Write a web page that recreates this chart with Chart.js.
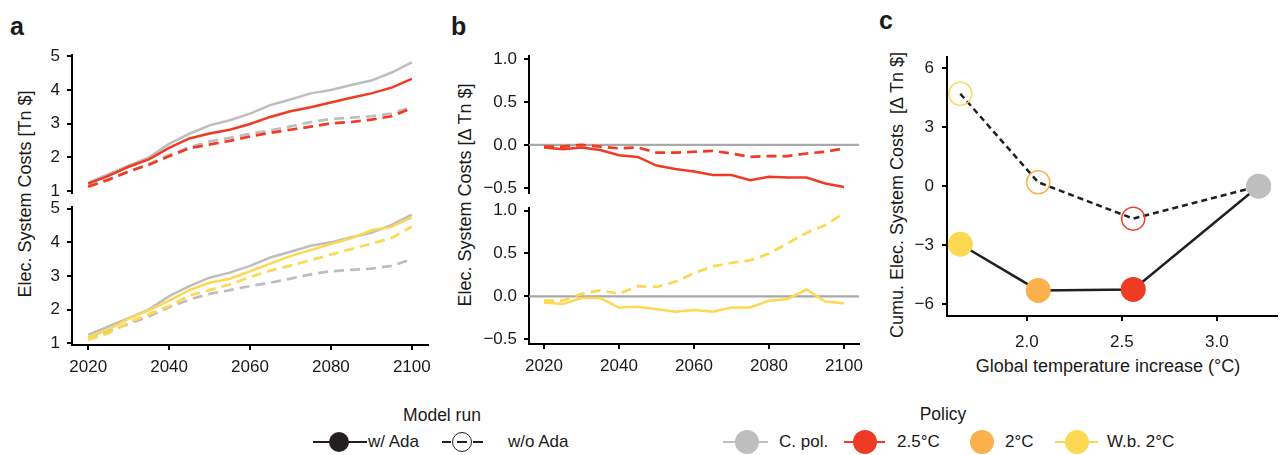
<!DOCTYPE html>
<html lang="en">
<head>
<meta charset="UTF-8" />
<title>Elec. System Costs</title>
<script src="https://cdn.jsdelivr.net/npm/chart.js"></script>
<style>
body {
  margin: 0;
  width: 1282px;
  height: 455px;
  overflow: hidden;
  position: relative;
  background: #ffffff;
  font-family: 'Liberation Sans', Arial, sans-serif;
  color: #1a1a1a;
}
canvas { position: absolute; }
.panel-letter {
  position: absolute;
  font-weight: bold;
  font-size: 25px;
  line-height: 1;
}
.ytitle {
  position: absolute;
  font-size: 18px;
  white-space: nowrap;
  transform: translate(-50%, -50%) rotate(-90deg);
}
.txt {
  position: absolute;
  font-size: 17px;
  white-space: nowrap;
  transform: translateY(-50%);
}
.centre { transform: translate(-50%, -50%); }
.seg { position: absolute; height: 0; border-top: 2px solid; }
.dot { position: absolute; border-radius: 50%; }
</style>
</head>
<body>

<div class="panel-letter" style="left:10px; top:14px;">a</div>
<div class="panel-letter" style="left:451px; top:14px;">b</div>
<div class="panel-letter" style="left:879px; top:8px;">c</div>

<div class="ytitle" style="left:25px; top:194px;">Elec. System Costs [Tn $]</div>
<div class="ytitle" style="left:465px; top:195px;">Elec. System Costs [Δ Tn $]</div>
<div class="ytitle" style="left:897px; top:195px;">Cumu. Elec. System Costs&nbsp;&nbsp;[Δ Tn $]</div>
<div class="txt centre" style="left:1108px; top:366px; font-size:18px;">Global temperature increase (°C)</div>

<canvas id="aTop" width="432" height="160" style="left:0; top:40px;"></canvas>
<canvas id="aBot" width="432" height="195" style="left:0; top:195px;"></canvas>
<canvas id="bTop" width="430" height="160" style="left:440px; top:40px;"></canvas>
<canvas id="bBot" width="430" height="195" style="left:440px; top:195px;"></canvas>
<canvas id="cPanel" width="420" height="350" style="left:870px; top:40px;"></canvas>

<!-- leyenda -->
<div class="txt centre" style="left:442px; top:415px; font-size:17.5px;">Model run</div>
<div class="seg" style="left:313px; top:441px; width:54px; border-color:#231f20;"></div>
<div class="dot" style="left:329px; top:432px; width:20px; height:20px; background:#231f20;"></div>
<div class="txt" style="left:368px; top:442px;">w/ Ada</div>
<div class="seg" style="left:442px; top:441px; width:9px; border-color:#231f20;"></div>
<div class="dot" style="left:452px; top:432px; width:20px; height:20px; border:1.5px solid #231f20; box-sizing:border-box;"></div>
<div class="seg" style="left:457px; top:441px; width:10px; border-color:#231f20;"></div>
<div class="seg" style="left:473px; top:441px; width:10px; border-color:#231f20;"></div>
<div class="txt" style="left:508px; top:442px;">w/o Ada</div>

<div class="txt centre" style="left:943px; top:414px; font-size:17.5px;">Policy</div>
<div class="seg" style="left:723px; top:441px; width:45px; border-color:#bebebe;"></div>
<div class="dot" style="left:735px; top:430px; width:24px; height:24px; background:#bebebe;"></div>
<div class="txt" style="left:779px; top:442px;">C. pol.</div>
<div class="seg" style="left:844px; top:441px; width:41px; border-color:#ef3b24;"></div>
<div class="dot" style="left:853px; top:430px; width:24px; height:24px; background:#ef3b24;"></div>
<div class="txt" style="left:897px; top:442px;">2.5°C</div>
<div class="dot" style="left:970px; top:430px; width:24px; height:24px; background:#fcb04c;"></div>
<div class="txt" style="left:1005px; top:442px;">2°C</div>
<div class="seg" style="left:1055px; top:441px; width:43px; border-color:#fdd853;"></div>
<div class="dot" style="left:1065px; top:430px; width:24px; height:24px; background:#fdd853;"></div>
<div class="txt" style="left:1107px; top:442px;">W.b. 2°C</div>

<script>
// datos
const years = [2020, 2025, 2030, 2035, 2040, 2045, 2050, 2055, 2060, 2065, 2070, 2075, 2080, 2085, 2090, 2095, 2100];

// panel a: costes absolutos [Tn $]
const cpolAda    = [1.25, 1.50, 1.75, 2.00, 2.40, 2.70, 2.95, 3.10, 3.30, 3.55, 3.72, 3.90, 4.00, 4.15, 4.28, 4.52, 4.82];
const cpolNoAda  = [1.15, 1.35, 1.58, 1.80, 2.07, 2.30, 2.47, 2.58, 2.70, 2.80, 2.92, 3.05, 3.14, 3.18, 3.22, 3.30, 3.50];
const p25Ada     = [1.22, 1.45, 1.72, 1.94, 2.28, 2.56, 2.71, 2.82, 2.99, 3.20, 3.37, 3.49, 3.63, 3.77, 3.90, 4.07, 4.33];
const p25NoAda   = [1.13, 1.33, 1.58, 1.78, 2.03, 2.27, 2.38, 2.49, 2.62, 2.73, 2.82, 2.91, 3.01, 3.05, 3.12, 3.22, 3.46];
const wb2Ada     = [1.18, 1.41, 1.73, 1.98, 2.27, 2.58, 2.80, 2.92, 3.14, 3.37, 3.59, 3.77, 3.95, 4.12, 4.36, 4.46, 4.74];
const wb2NoAda   = [1.10, 1.30, 1.62, 1.87, 2.10, 2.42, 2.58, 2.75, 2.97, 3.16, 3.31, 3.47, 3.64, 3.80, 3.96, 4.13, 4.47];

// panel b: diferencia frente a C. pol. [Δ Tn $]
const d25Ada     = [-0.03, -0.05, -0.03, -0.06, -0.12, -0.14, -0.24, -0.28, -0.31, -0.35, -0.35, -0.41, -0.37, -0.38, -0.38, -0.45, -0.49];
const d25NoAda   = [-0.02, -0.02, 0.00, -0.02, -0.04, -0.03, -0.09, -0.09, -0.08, -0.07, -0.10, -0.14, -0.13, -0.13, -0.10, -0.08, -0.04];
const dWb2Ada    = [-0.07, -0.09, -0.02, -0.02, -0.13, -0.12, -0.15, -0.18, -0.16, -0.18, -0.13, -0.13, -0.05, -0.03, 0.08, -0.06, -0.08];
const dWb2NoAda  = [-0.05, -0.05, 0.03, 0.07, 0.03, 0.12, 0.11, 0.17, 0.27, 0.35, 0.39, 0.42, 0.50, 0.62, 0.74, 0.83, 0.97];

// panel c: acumulado vs temperatura
const policies   = ['W.b. 2°C', '2°C', '2.5°C', 'C. pol.'];
const tempRise   = [1.65, 2.06, 2.56, 3.22];
const cumuAda    = [-2.95, -5.30, -5.25, 0.00];
const cumuNoAda  = [4.70, 0.20, -1.65, 0.00];

// ticks
const yearTicks = [2020, 2040, 2060, 2080, 2100];
const costTicks = [1, 2, 3, 4, 5];
const diffTicks = [-0.5, 0, 0.5, 1];
const tempTicks = [2.0, 2.5, 3.0];
const cumuTicks = [-6, -3, 0, 3, 6];

const COL = { cpol: '#bebebe', p25: '#ef3b24', p2: '#fcb04c', wb2: '#fdd853', ink: '#231f20' };
const policyColors = [COL.wb2, COL.p2, COL.p25, COL.cpol];
const DASH = [10, 6];

Chart.defaults.font.family = "'Liberation Sans', Arial, sans-serif";
Chart.defaults.font.size = 17;
Chart.defaults.color = '#1a1a1a';
Chart.defaults.animation = false;

const minus = (s) => String(s).replace('-', '\u2212');
const pts = (xs, ys) => xs.map((x, i) => ({ x, y: ys[i] }));

function serie(ys, color, dashed) {
  return {
    data: pts(years, ys),
    borderColor: color,
    borderWidth: dashed ? 2.7 : 2.5,
    borderDash: dashed ? DASH : [],
    pointRadius: 0,
    tension: 0,
    fill: false
  };
}

// eje estilo ggplot classic
function axis(extra, tickList, fmt, pad) {
  return Object.assign({
    type: 'linear',
    border: { display: true, color: '#000', width: 2 },
    grid: { drawOnChartArea: false, drawTicks: true, tickLength: 5, tickColor: '#000', lineWidth: 2 },
    ticks: { padding: pad, color: '#1a1a1a', callback: fmt },
    afterBuildTicks: (s) => { s.ticks = tickList.map(v => ({ value: v })); }
  }, extra);
}

function fixY(w) {
  return (s) => { s.width = w; s.paddingTop = 0; s.paddingBottom = 0; };
}
function fixX(h) {
  return (s) => { s.height = h; s.paddingLeft = 0; s.paddingRight = 0; };
}

const zeroLine = {
  id: 'zeroLine',
  beforeDatasetsDraw(chart) {
    const { ctx, chartArea: { left, right }, scales: { y } } = chart;
    const py = y.getPixelForValue(0);
    ctx.save();
    ctx.strokeStyle = '#a9a9a9';
    ctx.lineWidth = 2.4;
    ctx.beginPath();
    ctx.moveTo(left, py);
    ctx.lineTo(right, py);
    ctx.stroke();
    ctx.restore();
  }
};

function timeChart(id, datasets, yMin, yMax, yTicks, yFmt, yWidth, padding, showX, xHeight, extraPlugins) {
  const xScale = showX
    ? axis({ min: 2016, max: 2104, afterFit: fixX(xHeight) }, yearTicks, (v) => String(v), 7)
    : { type: 'linear', min: 2016, max: 2104, display: false };
  return new Chart(document.getElementById(id), {
    type: 'line',
    data: { datasets },
    options: {
      responsive: false,
      layout: { padding },
      plugins: { legend: { display: false }, tooltip: { enabled: false } },
      scales: {
        x: xScale,
        y: axis({ min: yMin, max: yMax, afterFit: fixY(yWidth) }, yTicks, yFmt, 7)
      }
    },
    plugins: extraPlugins || []
  });
}

const costFmt = (v) => String(v);
const diffFmt = (v) => minus(v.toFixed(1));

// panel a
timeChart('aTop', [
  serie(p25Ada, COL.p25, false),
  serie(p25NoAda, COL.p25, true),
  serie(cpolAda, COL.cpol, false),
  serie(cpolNoAda, COL.cpol, true)
], 0.94, 5.04, costTicks, costFmt, 72, { top: 15, right: 4, bottom: 7, left: 0 }, false);

timeChart('aBot', [
  serie(wb2Ada, COL.wb2, false),
  serie(wb2NoAda, COL.wb2, true),
  serie(cpolAda, COL.cpol, false),
  serie(cpolNoAda, COL.cpol, true)
], 0.95, 5.05, costTicks, costFmt, 72, { top: 12, right: 4, bottom: 0, left: 0 }, true, 45);

// panel b
timeChart('bTop', [
  serie(d25Ada, COL.p25, false),
  serie(d25NoAda, COL.p25, true)
], -0.56, 1.035, diffTicks, diffFmt, 89, { top: 16, right: 11, bottom: 7, left: 0 }, false, 0, [zeroLine]);

timeChart('bBot', [
  serie(dWb2Ada, COL.wb2, false),
  serie(dWb2NoAda, COL.wb2, true)
], -0.555, 1.03, diffTicks, diffFmt, 89, { top: 13, right: 11, bottom: 0, left: 0 }, true, 46, [zeroLine]);

// panel c
new Chart(document.getElementById('cPanel'), {
  type: 'line',
  data: {
    labels: policies,
    datasets: [
      {
        label: 'w/ Ada',
        data: pts(tempRise, cumuAda),
        borderColor: COL.ink,
        borderWidth: 2.5,
        pointRadius: 12.5,
        pointBorderWidth: 0,
        pointBackgroundColor: policyColors,
        pointBorderColor: policyColors,
        tension: 0,
        clip: false
      },
      {
        label: 'w/o Ada',
        data: pts(tempRise, cumuNoAda),
        borderColor: COL.ink,
        borderWidth: 2.5,
        borderDash: [6, 4],
        pointRadius: 11.5,
        pointBorderWidth: 1.5,
        pointBackgroundColor: 'rgba(0,0,0,0)',
        pointBorderColor: policyColors,
        tension: 0,
        clip: false
      }
    ]
  },
  options: {
    responsive: false,
    layout: { padding: { top: 17, right: 0, bottom: 0, left: 0 } },
    plugins: { legend: { display: false }, tooltip: { enabled: false } },
    scales: {
      x: axis({ min: 1.58, max: 3.3165, afterFit: fixX(74) }, tempTicks, (v) => v.toFixed(1), 11),
      y: axis({ min: -6.6, max: 6.57, afterFit: fixY(77) }, cumuTicks, (v) => minus(v), 8)
    }
  }
});
</script>
</body>
</html>
